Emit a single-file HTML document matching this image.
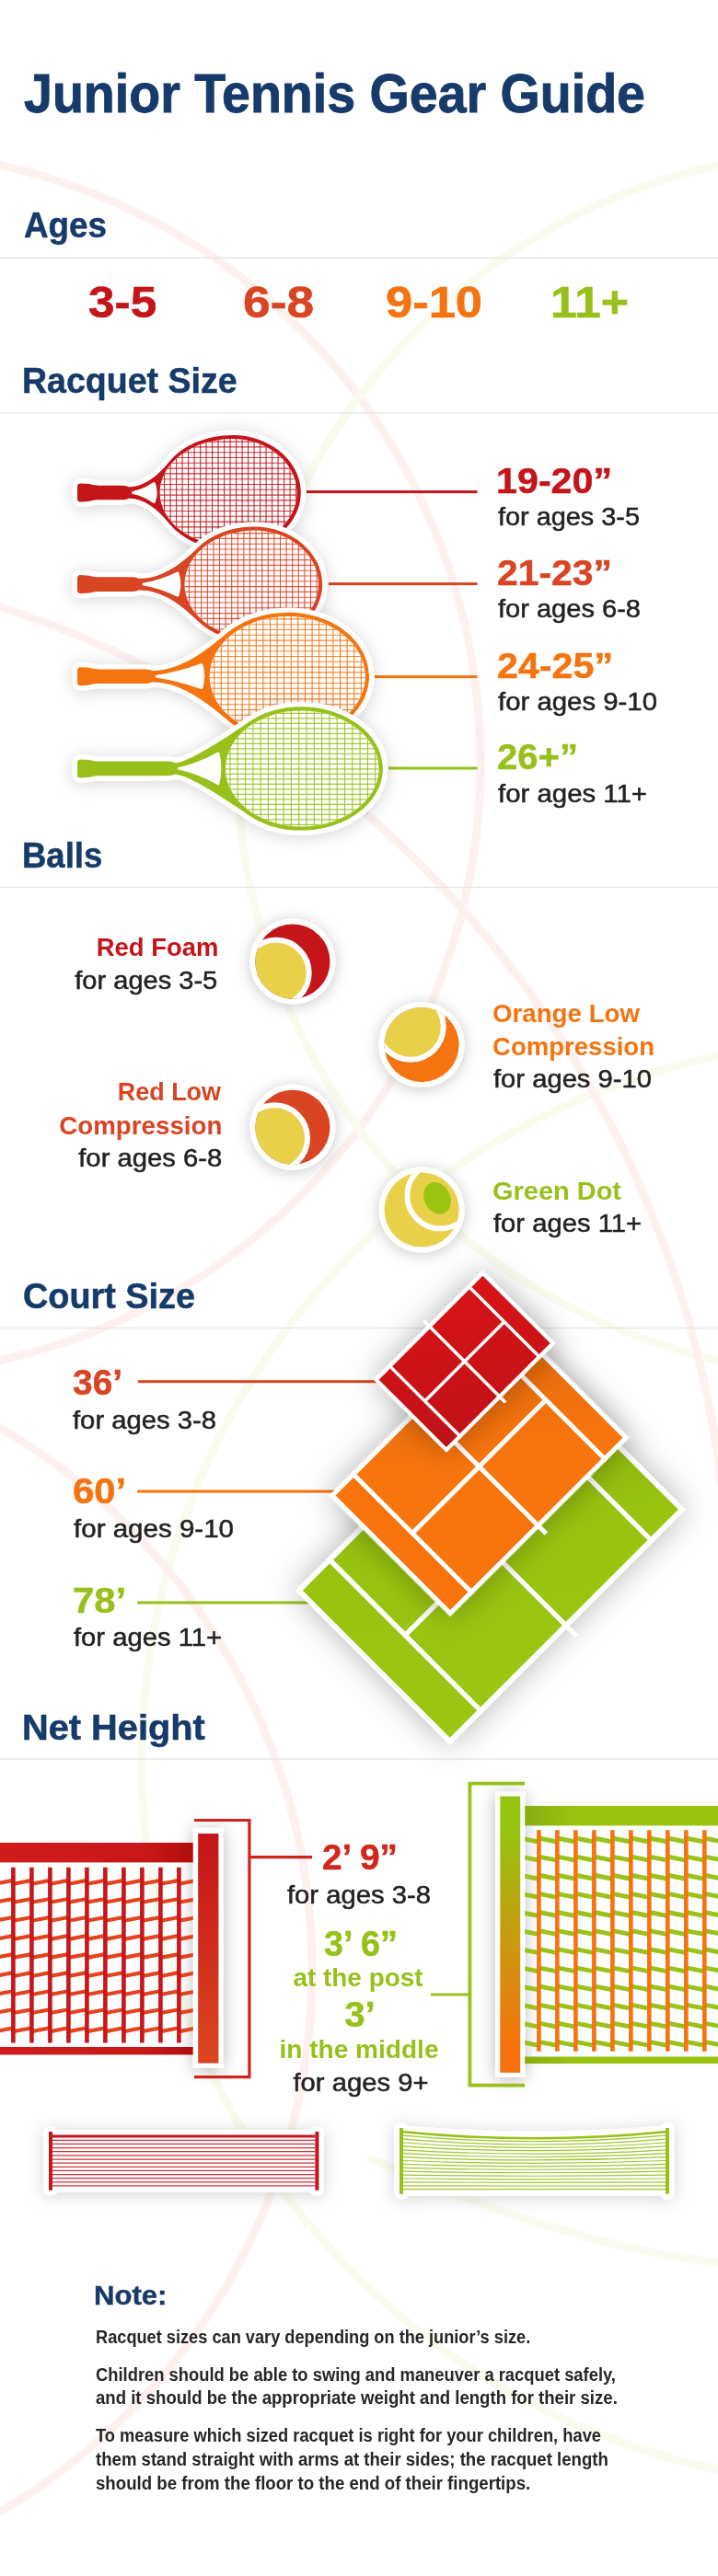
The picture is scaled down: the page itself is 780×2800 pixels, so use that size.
<!DOCTYPE html>
<html lang="en"><head><meta charset="utf-8"><title>Junior Tennis Gear Guide</title>
<style>
html,body{margin:0;padding:0;background:#fff}
#page{position:relative;width:780px;height:2800px;overflow:hidden;background:#fff;font-family:"Liberation Sans", Arial, sans-serif}
#page svg{position:absolute;left:0;top:0}
.t{position:absolute;margin:0;padding:0;line-height:1;white-space:nowrap;display:block}
</style></head><body>
<div id="page">
<svg width="780" height="2800" viewBox="0 0 780 2800">
<defs>
<filter id="shS" x="-20%" y="-50%" width="140%" height="200%"><feDropShadow dx="0" dy="2" stdDeviation="9" flood-color="#000" flood-opacity=".17"/></filter>
<filter id="shB" x="-40%" y="-40%" width="180%" height="180%"><feDropShadow dx="0" dy="2" stdDeviation="8" flood-color="#000" flood-opacity=".22"/></filter>
<filter id="shC" x="-60%" y="-60%" width="220%" height="220%"><feDropShadow dx="0" dy="0" stdDeviation="17" flood-color="#000" flood-opacity=".3"/></filter>
<filter id="shP" x="-150%" y="-20%" width="400%" height="140%"><feDropShadow dx="0" dy="2" stdDeviation="9" flood-color="#000" flood-opacity=".28"/></filter>
<linearGradient id="gRed" x1="0" y1="0" x2="1" y2="1"><stop offset="0" stop-color="#d81418"/><stop offset="1" stop-color="#bf1117"/></linearGradient>
<linearGradient id="gOr" x1="0" y1="0" x2="1" y2="1"><stop offset="0" stop-color="#e0690c"/><stop offset=".45" stop-color="#f8740d"/><stop offset="1" stop-color="#f8740d"/></linearGradient>
<linearGradient id="gGr" x1="0" y1="0" x2="1" y2="1"><stop offset="0" stop-color="#86ae12"/><stop offset=".5" stop-color="#98c410"/><stop offset="1" stop-color="#9bc614"/></linearGradient>
<linearGradient id="gRB" x1="0" y1="0" x2="1" y2="0"><stop offset="0" stop-color="#d01b1b"/><stop offset=".75" stop-color="#c91818"/><stop offset="1" stop-color="#b20c0c"/></linearGradient>
<linearGradient id="gRP" x1="0" y1="0" x2="0" y2="1"><stop offset="0" stop-color="#c41418"/><stop offset="1" stop-color="#dc4621"/></linearGradient>
<linearGradient id="gGB" x1="0" y1="0" x2="1" y2="0"><stop offset="0" stop-color="#86ae10"/><stop offset=".25" stop-color="#98c410"/><stop offset="1" stop-color="#98c410"/></linearGradient>
<linearGradient id="gGP" x1="0" y1="0" x2="0" y2="1"><stop offset="0" stop-color="#97c410"/><stop offset=".12" stop-color="#97c410"/><stop offset=".9" stop-color="#f7720d"/><stop offset="1" stop-color="#f7720d"/></linearGradient>
<clipPath id="cnR"><rect x="0" y="2024" width="209.9" height="202"/></clipPath>
<clipPath id="cnG"><rect x="570" y="1984" width="210" height="252"/></clipPath>
</defs>
<g fill="none" stroke-width="9">
<circle cx="-143" cy="829" r="665" stroke="#fdf1ef"/>
<circle cx="923" cy="829" r="665" stroke="#fafbef"/>
<circle cx="938" cy="1916" r="784" stroke="#fafbef"/>
<circle cx="-342" cy="2141" r="681" stroke="#fdf1ef"/>
<path d="M-5 658A1145 1145 0 0 1 785 1625" stroke="#fdf1ef"/>
<path d="M400 2345Q610 2440 785 2460" stroke="#fafbef"/>
</g>
<rect x="0" y="279.8" width="780" height="1.2" fill="#e3e3e3"/>
<rect x="0" y="448.2" width="780" height="1.2" fill="#e3e3e3"/>
<rect x="0" y="963.8" width="780" height="1.2" fill="#e3e3e3"/>
<rect x="0" y="1442.9" width="780" height="1.2" fill="#e3e3e3"/>
<rect x="0" y="1911.4" width="780" height="1.2" fill="#e3e3e3"/>
<rect x="333" y="533.1" width="185.5" height="3" fill="#c4151b"/>
<rect x="357" y="633.1" width="161.5" height="3" fill="#d94423"/>
<rect x="407" y="734.1" width="111.5" height="3" fill="#f5740f"/>
<rect x="422" y="833.5" width="96.5" height="3" fill="#97c11a"/>
<defs><clipPath id="rq1"><path d="M 252.4 477.1 C 291.01 477.1 322.6 503.38 322.6 535.5 C 322.6 567.62 291.01 593.9 252.4 593.9 A 78.8 58.4 0 0 1 173.6 535.5 A 78.8 58.4 0 0 1 252.4 477.1 Z"/></clipPath></defs>
<g filter="url(#shS)"><path d="M 140 529.2 C 155.25 529.6 170.39 518.53 183.09 502.67 A 81.4 62.6 0 0 1 252.4 472.9 C 293.32 472.9 326.8 501.07 326.8 535.5 C 326.8 569.93 293.32 598.1 252.4 598.1 A 81.4 62.6 0 0 1 183.09 568.33 C 170.39 552.47 155.25 541.4 140 541.8 Z" fill="#fff" stroke="#fff" stroke-width="10.5" stroke-linejoin="round"/><path d="M 87.5 525.5 L 93 525.8 C 99 525.8 100 527.7 108 527.7 L 132 527.7 C 137 527.7 140 528.9 141.8 531.1 L 141.8 539.9 C 140 542.1 137 543.3 132 543.3 L 108 543.3 C 100 543.3 99 545.2 93 545.2 L 87.5 545.5 Q 84 545.5 84 542 L 84 529 Q 84 525.5 87.5 525.5 Z" fill="#fff" stroke="#fff" stroke-width="10.5" stroke-linejoin="round"/></g>
<path d="M 140 529.2 C 155.25 529.6 170.39 518.53 183.09 502.67 A 81.4 62.6 0 0 1 252.4 472.9 C 293.32 472.9 326.8 501.07 326.8 535.5 C 326.8 569.93 293.32 598.1 252.4 598.1 A 81.4 62.6 0 0 1 183.09 568.33 C 170.39 552.47 155.25 541.4 140 541.8 Z" fill="#c4151b"/>
<path d="M 252.4 477.1 C 291.01 477.1 322.6 503.38 322.6 535.5 C 322.6 567.62 291.01 593.9 252.4 593.9 A 78.8 58.4 0 0 1 173.6 535.5 A 78.8 58.4 0 0 1 252.4 477.1 Z" fill="#fff"/>
<g clip-path="url(#rq1)"><path d="M178.6 472.9V598.1M185.1 472.9V598.1M191.6 472.9V598.1M198.1 472.9V598.1M204.6 472.9V598.1M211.1 472.9V598.1M217.6 472.9V598.1M224.1 472.9V598.1M230.6 472.9V598.1M237.1 472.9V598.1M243.6 472.9V598.1M250.1 472.9V598.1M256.6 472.9V598.1M263.1 472.9V598.1M269.6 472.9V598.1M276.1 472.9V598.1M282.6 472.9V598.1M289.1 472.9V598.1M295.6 472.9V598.1M302.1 472.9V598.1M308.6 472.9V598.1M315.1 472.9V598.1M321.6 472.9V598.1" stroke="#c4151b" stroke-width="1.1" fill="none" opacity=".9"/><path d="M171.6 480.1H326.8M171.6 485.9H326.8M171.6 491.7H326.8M171.6 497.5H326.8M171.6 503.3H326.8M171.6 509.1H326.8M171.6 514.9H326.8M171.6 520.7H326.8M171.6 526.5H326.8M171.6 532.3H326.8M171.6 538.1H326.8M171.6 543.9H326.8M171.6 549.7H326.8M171.6 555.5H326.8M171.6 561.3H326.8M171.6 567.1H326.8M171.6 572.9H326.8M171.6 578.7H326.8M171.6 584.5H326.8M171.6 590.3H326.8" stroke="#c4151b" stroke-width="1.1" fill="none" opacity=".85"/></g>
<path d="M 144.5 535.5 C 153.25 533.7 162 529.3 167.3 525.5 Q 171.1 535.5 167.3 545.5 C 162 541.7 153.25 537.3 144.5 535.5 Z" fill="#fff" stroke="#fff" stroke-width="3" stroke-linejoin="round"/>
<path d="M 87.5 525.5 L 93 525.8 C 99 525.8 100 527.7 108 527.7 L 132 527.7 C 137 527.7 140 528.9 141.8 531.1 L 141.8 539.9 C 140 542.1 137 543.3 132 543.3 L 108 543.3 C 100 543.3 99 545.2 93 545.2 L 87.5 545.5 Q 84 545.5 84 542 L 84 529 Q 84 525.5 87.5 525.5 Z" fill="#c4151b"/>
<defs><clipPath id="rq2"><path d="M 276 576.6 C 314.5 576.6 346 602.93 346 635.1 C 346 667.27 314.5 693.6 276 693.6 A 75.5 58.5 0 0 1 200.5 635.1 A 75.5 58.5 0 0 1 276 576.6 Z"/></clipPath></defs>
<g filter="url(#shS)"><path d="M 151.4 628.8 C 171.9 629.2 193.18 616.99 213.6 596.41 A 79.3 62.7 0 0 1 276 572.4 C 316.81 572.4 350.2 600.62 350.2 635.1 C 350.2 669.59 316.81 697.8 276 697.8 A 79.3 62.7 0 0 1 213.6 673.79 C 193.18 653.21 171.9 641 151.4 641.4 Z" fill="#fff" stroke="#fff" stroke-width="10.5" stroke-linejoin="round"/><path d="M 87.5 625.1 L 93 625.4 C 99 625.4 100 627.3 108 627.3 L 143.4 627.3 C 148.4 627.3 151.4 628.5 153.2 630.7 L 153.2 639.5 C 151.4 641.7 148.4 642.9 143.4 642.9 L 108 642.9 C 100 642.9 99 644.8 93 644.8 L 87.5 645.1 Q 84 645.1 84 641.6 L 84 628.6 Q 84 625.1 87.5 625.1 Z" fill="#fff" stroke="#fff" stroke-width="10.5" stroke-linejoin="round"/></g>
<path d="M 151.4 628.8 C 171.9 629.2 193.18 616.99 213.6 596.41 A 79.3 62.7 0 0 1 276 572.4 C 316.81 572.4 350.2 600.62 350.2 635.1 C 350.2 669.59 316.81 697.8 276 697.8 A 79.3 62.7 0 0 1 213.6 673.79 C 193.18 653.21 171.9 641 151.4 641.4 Z" fill="#d94423"/>
<path d="M 276 576.6 C 314.5 576.6 346 602.93 346 635.1 C 346 667.27 314.5 693.6 276 693.6 A 75.5 58.5 0 0 1 200.5 635.1 A 75.5 58.5 0 0 1 276 576.6 Z" fill="#fff"/>
<g clip-path="url(#rq2)"><path d="M205.5 572.4V697.8M212.1 572.4V697.8M218.7 572.4V697.8M225.3 572.4V697.8M231.9 572.4V697.8M238.5 572.4V697.8M245.1 572.4V697.8M251.7 572.4V697.8M258.3 572.4V697.8M264.9 572.4V697.8M271.5 572.4V697.8M278.1 572.4V697.8M284.7 572.4V697.8M291.3 572.4V697.8M297.9 572.4V697.8M304.5 572.4V697.8M311.1 572.4V697.8M317.7 572.4V697.8M324.3 572.4V697.8M330.9 572.4V697.8M337.5 572.4V697.8M344.1 572.4V697.8" stroke="#d94423" stroke-width="1.1" fill="none" opacity=".9"/><path d="M198.5 579.6H350.2M198.5 585.4H350.2M198.5 591.2H350.2M198.5 597H350.2M198.5 602.8H350.2M198.5 608.6H350.2M198.5 614.4H350.2M198.5 620.2H350.2M198.5 626H350.2M198.5 631.8H350.2M198.5 637.6H350.2M198.5 643.4H350.2M198.5 649.2H350.2M198.5 655H350.2M198.5 660.8H350.2M198.5 666.6H350.2M198.5 672.4H350.2M198.5 678.2H350.2M198.5 684H350.2M198.5 689.8H350.2" stroke="#d94423" stroke-width="1.1" fill="none" opacity=".85"/></g>
<path d="M 155.9 635.1 C 169.66 632.94 183.41 627.66 193 623.1 Q 196.8 635.1 193 647.1 C 183.41 642.54 169.66 637.26 155.9 635.1 Z" fill="#fff" stroke="#fff" stroke-width="3" stroke-linejoin="round"/>
<path d="M 87.5 625.1 L 93 625.4 C 99 625.4 100 627.3 108 627.3 L 143.4 627.3 C 148.4 627.3 151.4 628.5 153.2 630.7 L 153.2 639.5 C 151.4 641.7 148.4 642.9 143.4 642.9 L 108 642.9 C 100 642.9 99 644.8 93 644.8 L 87.5 645.1 Q 84 645.1 84 641.6 L 84 628.6 Q 84 625.1 87.5 625.1 Z" fill="#d94423"/>
<defs><clipPath id="rq3"><path d="M 313 669.9 C 359.09 669.9 396.8 699.29 396.8 735.2 C 396.8 771.12 359.09 800.5 313 800.5 A 85.3 65.3 0 0 1 227.7 735.2 A 85.3 65.3 0 0 1 313 669.9 Z"/></clipPath></defs>
<g filter="url(#shS)"><path d="M 165.7 728.9 C 189.2 729.3 213.7 716.47 245.26 689.11 A 90.5 69.5 0 0 1 313 665.7 C 361.4 665.7 401 696.98 401 735.2 C 401 773.43 361.4 804.7 313 804.7 A 90.5 69.5 0 0 1 245.26 781.29 C 213.7 753.93 189.2 741.1 165.7 741.5 Z" fill="#fff" stroke="#fff" stroke-width="10.5" stroke-linejoin="round"/><path d="M 87.5 725.2 L 93 725.5 C 99 725.5 100 727.4 108 727.4 L 157.7 727.4 C 162.7 727.4 165.7 728.6 167.5 730.8 L 167.5 739.6 C 165.7 741.8 162.7 743 157.7 743 L 108 743 C 100 743 99 744.9 93 744.9 L 87.5 745.2 Q 84 745.2 84 741.7 L 84 728.7 Q 84 725.2 87.5 725.2 Z" fill="#fff" stroke="#fff" stroke-width="10.5" stroke-linejoin="round"/></g>
<path d="M 165.7 728.9 C 189.2 729.3 213.7 716.47 245.26 689.11 A 90.5 69.5 0 0 1 313 665.7 C 361.4 665.7 401 696.98 401 735.2 C 401 773.43 361.4 804.7 313 804.7 A 90.5 69.5 0 0 1 245.26 781.29 C 213.7 753.93 189.2 741.1 165.7 741.5 Z" fill="#f5740f"/>
<path d="M 313 669.9 C 359.09 669.9 396.8 699.29 396.8 735.2 C 396.8 771.12 359.09 800.5 313 800.5 A 85.3 65.3 0 0 1 227.7 735.2 A 85.3 65.3 0 0 1 313 669.9 Z" fill="#fff"/>
<g clip-path="url(#rq3)"><path d="M232.7 665.7V804.7M240.3 665.7V804.7M247.9 665.7V804.7M255.5 665.7V804.7M263.1 665.7V804.7M270.7 665.7V804.7M278.3 665.7V804.7M285.9 665.7V804.7M293.5 665.7V804.7M301.1 665.7V804.7M308.7 665.7V804.7M316.3 665.7V804.7M323.9 665.7V804.7M331.5 665.7V804.7M339.1 665.7V804.7M346.7 665.7V804.7M354.3 665.7V804.7M361.9 665.7V804.7M369.5 665.7V804.7M377.1 665.7V804.7M384.7 665.7V804.7M392.3 665.7V804.7" stroke="#f5740f" stroke-width="1.1" fill="none" opacity=".9"/><path d="M225.7 672.9H401M225.7 678.7H401M225.7 684.5H401M225.7 690.3H401M225.7 696.1H401M225.7 701.9H401M225.7 707.7H401M225.7 713.5H401M225.7 719.3H401M225.7 725.1H401M225.7 730.9H401M225.7 736.7H401M225.7 742.5H401M225.7 748.3H401M225.7 754.1H401M225.7 759.9H401M225.7 765.7H401M225.7 771.5H401M225.7 777.3H401M225.7 783.1H401M225.7 788.9H401M225.7 794.7H401M225.7 800.5H401" stroke="#f5740f" stroke-width="1.1" fill="none" opacity=".85"/></g>
<path d="M 170.2 735.2 C 187.98 732.95 205.76 727.45 218.8 722.7 Q 222.6 735.2 218.8 747.7 C 205.76 742.95 187.98 737.45 170.2 735.2 Z" fill="#fff" stroke="#fff" stroke-width="3" stroke-linejoin="round"/>
<path d="M 87.5 725.2 L 93 725.5 C 99 725.5 100 727.4 108 727.4 L 157.7 727.4 C 162.7 727.4 165.7 728.6 167.5 730.8 L 167.5 739.6 C 165.7 741.8 162.7 743 157.7 743 L 108 743 C 100 743 99 744.9 93 744.9 L 87.5 745.2 Q 84 745.2 84 741.7 L 84 728.7 Q 84 725.2 87.5 725.2 Z" fill="#f5740f"/>
<defs><clipPath id="rq4"><path d="M 327 772.4 C 373.58 772.4 411.7 800.75 411.7 835.4 C 411.7 870.05 373.58 898.4 327 898.4 A 82 63 0 0 1 245 835.4 A 82 63 0 0 1 327 772.4 Z"/></clipPath></defs>
<g filter="url(#shS)"><path d="M 190 829.1 C 201.5 829.5 234.11 809.77 269.69 785.16 A 86.3 67.2 0 0 1 327 768.2 C 375.89 768.2 415.9 798.44 415.9 835.4 C 415.9 872.36 375.89 902.6 327 902.6 A 86.3 67.2 0 0 1 269.69 885.64 C 234.11 861.03 201.5 841.3 190 841.7 Z" fill="#fff" stroke="#fff" stroke-width="10.5" stroke-linejoin="round"/><path d="M 87.5 825.4 L 93 825.7 C 99 825.7 100 827.6 108 827.6 L 182 827.6 C 187 827.6 190 828.8 191.8 831 L 191.8 839.8 C 190 842 187 843.2 182 843.2 L 108 843.2 C 100 843.2 99 845.1 93 845.1 L 87.5 845.4 Q 84 845.4 84 841.9 L 84 828.9 Q 84 825.4 87.5 825.4 Z" fill="#fff" stroke="#fff" stroke-width="10.5" stroke-linejoin="round"/></g>
<path d="M 190 829.1 C 201.5 829.5 234.11 809.77 269.69 785.16 A 86.3 67.2 0 0 1 327 768.2 C 375.89 768.2 415.9 798.44 415.9 835.4 C 415.9 872.36 375.89 902.6 327 902.6 A 86.3 67.2 0 0 1 269.69 885.64 C 234.11 861.03 201.5 841.3 190 841.7 Z" fill="#97c11a"/>
<path d="M 327 772.4 C 373.58 772.4 411.7 800.75 411.7 835.4 C 411.7 870.05 373.58 898.4 327 898.4 A 82 63 0 0 1 245 835.4 A 82 63 0 0 1 327 772.4 Z" fill="#fff"/>
<g clip-path="url(#rq4)"><path d="M250 768.2V902.6M258.3 768.2V902.6M266.6 768.2V902.6M274.9 768.2V902.6M283.2 768.2V902.6M291.5 768.2V902.6M299.8 768.2V902.6M308.1 768.2V902.6M316.4 768.2V902.6M324.7 768.2V902.6M333 768.2V902.6M341.3 768.2V902.6M349.6 768.2V902.6M357.9 768.2V902.6M366.2 768.2V902.6M374.5 768.2V902.6M382.8 768.2V902.6M391.1 768.2V902.6M399.4 768.2V902.6M407.7 768.2V902.6" stroke="#97c11a" stroke-width="1.1" fill="none" opacity=".9"/><path d="M243 775.4H415.9M243 780.9H415.9M243 786.4H415.9M243 791.9H415.9M243 797.4H415.9M243 802.9H415.9M243 808.4H415.9M243 813.9H415.9M243 819.4H415.9M243 824.9H415.9M243 830.4H415.9M243 835.9H415.9M243 841.4H415.9M243 846.9H415.9M243 852.4H415.9M243 857.9H415.9M243 863.4H415.9M243 868.9H415.9M243 874.4H415.9M243 879.9H415.9M243 885.4H415.9M243 890.9H415.9M243 896.4H415.9" stroke="#97c11a" stroke-width="1.1" fill="none" opacity=".85"/></g>
<path d="M 194.5 835.4 C 210.14 832.47 225.79 825.29 237 819.1 Q 240.8 835.4 237 851.7 C 225.79 845.51 210.14 838.33 194.5 835.4 Z" fill="#fff" stroke="#fff" stroke-width="3" stroke-linejoin="round"/>
<path d="M 87.5 825.4 L 93 825.7 C 99 825.7 100 827.6 108 827.6 L 182 827.6 C 187 827.6 190 828.8 191.8 831 L 191.8 839.8 C 190 842 187 843.2 182 843.2 L 108 843.2 C 100 843.2 99 845.1 93 845.1 L 87.5 845.4 Q 84 845.4 84 841.9 L 84 828.9 Q 84 825.4 87.5 825.4 Z" fill="#97c11a"/>
<circle cx="317.9" cy="1045.1" r="46.5" fill="#fff" filter="url(#shB)"/>
<defs><clipPath id="bl1"><circle cx="317.9" cy="1045.1" r="40.6"/></clipPath></defs>
<circle cx="317.9" cy="1045.1" r="40.6" fill="#c4151b"/>
<g clip-path="url(#bl1)"><circle cx="300" cy="1057.5" r="35.7" fill="#e9d049" stroke="#fff" stroke-width="6"/></g>
<circle cx="317.9" cy="1225.3" r="46.5" fill="#fff" filter="url(#shB)"/>
<defs><clipPath id="bl2"><circle cx="317.9" cy="1225.3" r="40.6"/></clipPath></defs>
<circle cx="317.9" cy="1225.3" r="40.6" fill="#d94423"/>
<g clip-path="url(#bl2)"><circle cx="298.3" cy="1237" r="35.7" fill="#e9d049" stroke="#fff" stroke-width="6"/></g>
<circle cx="458" cy="1135.6" r="46.5" fill="#fff" filter="url(#shB)"/>
<defs><clipPath id="bl3"><circle cx="458" cy="1135.6" r="40.6"/></clipPath></defs>
<circle cx="458" cy="1135.6" r="40.6" fill="#f5740f"/>
<g clip-path="url(#bl3)"><circle cx="446" cy="1116.1" r="35.7" fill="#e9d049" stroke="#fff" stroke-width="6"/></g>
<circle cx="458.1" cy="1315" r="46.5" fill="#fff" filter="url(#shB)"/>
<defs><clipPath id="bl4"><circle cx="458.1" cy="1315" r="40.6"/></clipPath></defs>
<circle cx="458.1" cy="1315" r="40.6" fill="#e9d049"/>
<g clip-path="url(#bl4)"><circle cx="478.4" cy="1299.4" r="36" fill="none" stroke="#fff" stroke-width="5.8"/></g>
<ellipse cx="475" cy="1302.4" rx="14" ry="18" fill="#99c40f" transform="rotate(-25 475 1302.4)"/>
<rect x="150" y="1500.2" width="265" height="3" fill="#d94423"/>
<rect x="149.3" y="1619.6" width="222.7" height="3" fill="#f5740f"/>
<rect x="149.3" y="1740.5" width="190.7" height="3" fill="#97c11a"/>
<g transform="translate(532.8 1684.8) rotate(45)">
<rect x="-118.7" y="-181" width="237.4" height="362" fill="#fff" filter="url(#shC)"/>
<rect x="-113.1" y="-175.4" width="226.2" height="350.8" fill="url(#gGr)"/>
<path d="M-118.7 -131H118.7 M-118.7 131H118.7 M0 -131V131 M-132.7 0H132.7" stroke="#fff" stroke-width="5.4" fill="none"/>
</g>
<g transform="translate(520.5 1594.1) rotate(45)">
<rect x="-93.05" y="-137.5" width="186.1" height="275" fill="#fff" filter="url(#shC)"/>
<rect x="-88.05" y="-132.5" width="176.1" height="265" fill="url(#gOr)"/>
<path d="M-93.05 -102.5H93.05 M-93.05 102.5H93.05 M0 -102.5V102.5 M-103.05 0H103.05" stroke="#fff" stroke-width="5" fill="none"/>
</g>
<g transform="translate(504.65 1479.85) rotate(45)">
<rect x="-56" y="-84" width="112" height="168" fill="#fff" filter="url(#shC)"/>
<rect x="-51.8" y="-79.8" width="103.6" height="159.6" fill="url(#gRed)"/>
<path d="M-56 -61H56 M-56 61H56 M0 -61V61 M-63 0H63" stroke="#fff" stroke-width="3.5" fill="none"/>
</g>
<rect x="209.8" y="1986.9" width="32.6" height="261.1" fill="#fff" filter="url(#shP)"/>
<g clip-path="url(#cnR)"><path d="M-5.6 2047.7L14.4 2043.9M14.4 2047.7L34.4 2043.9M34.4 2047.7L54.4 2043.9M54.4 2047.7L74.4 2043.9M74.4 2047.7L94.4 2043.9M94.4 2047.7L114.4 2043.9M114.4 2047.7L134.4 2043.9M134.4 2047.7L154.4 2043.9M154.4 2047.7L174.4 2043.9M174.4 2047.7L194.4 2043.9M194.4 2047.7L214.4 2043.9M-5.6 2067.75L14.4 2063.95M14.4 2067.75L34.4 2063.95M34.4 2067.75L54.4 2063.95M54.4 2067.75L74.4 2063.95M74.4 2067.75L94.4 2063.95M94.4 2067.75L114.4 2063.95M114.4 2067.75L134.4 2063.95M134.4 2067.75L154.4 2063.95M154.4 2067.75L174.4 2063.95M174.4 2067.75L194.4 2063.95M194.4 2067.75L214.4 2063.95M-5.6 2087.8L14.4 2084M14.4 2087.8L34.4 2084M34.4 2087.8L54.4 2084M54.4 2087.8L74.4 2084M74.4 2087.8L94.4 2084M94.4 2087.8L114.4 2084M114.4 2087.8L134.4 2084M134.4 2087.8L154.4 2084M154.4 2087.8L174.4 2084M174.4 2087.8L194.4 2084M194.4 2087.8L214.4 2084M-5.6 2107.85L14.4 2104.05M14.4 2107.85L34.4 2104.05M34.4 2107.85L54.4 2104.05M54.4 2107.85L74.4 2104.05M74.4 2107.85L94.4 2104.05M94.4 2107.85L114.4 2104.05M114.4 2107.85L134.4 2104.05M134.4 2107.85L154.4 2104.05M154.4 2107.85L174.4 2104.05M174.4 2107.85L194.4 2104.05M194.4 2107.85L214.4 2104.05M-5.6 2127.9L14.4 2124.1M14.4 2127.9L34.4 2124.1M34.4 2127.9L54.4 2124.1M54.4 2127.9L74.4 2124.1M74.4 2127.9L94.4 2124.1M94.4 2127.9L114.4 2124.1M114.4 2127.9L134.4 2124.1M134.4 2127.9L154.4 2124.1M154.4 2127.9L174.4 2124.1M174.4 2127.9L194.4 2124.1M194.4 2127.9L214.4 2124.1M-5.6 2147.95L14.4 2144.15M14.4 2147.95L34.4 2144.15M34.4 2147.95L54.4 2144.15M54.4 2147.95L74.4 2144.15M74.4 2147.95L94.4 2144.15M94.4 2147.95L114.4 2144.15M114.4 2147.95L134.4 2144.15M134.4 2147.95L154.4 2144.15M154.4 2147.95L174.4 2144.15M174.4 2147.95L194.4 2144.15M194.4 2147.95L214.4 2144.15M-5.6 2168L14.4 2164.2M14.4 2168L34.4 2164.2M34.4 2168L54.4 2164.2M54.4 2168L74.4 2164.2M74.4 2168L94.4 2164.2M94.4 2168L114.4 2164.2M114.4 2168L134.4 2164.2M134.4 2168L154.4 2164.2M154.4 2168L174.4 2164.2M174.4 2168L194.4 2164.2M194.4 2168L214.4 2164.2M-5.6 2188.05L14.4 2184.25M14.4 2188.05L34.4 2184.25M34.4 2188.05L54.4 2184.25M54.4 2188.05L74.4 2184.25M74.4 2188.05L94.4 2184.25M94.4 2188.05L114.4 2184.25M114.4 2188.05L134.4 2184.25M134.4 2188.05L154.4 2184.25M154.4 2188.05L174.4 2184.25M174.4 2188.05L194.4 2184.25M194.4 2188.05L214.4 2184.25M-5.6 2208.1L14.4 2204.3M14.4 2208.1L34.4 2204.3M34.4 2208.1L54.4 2204.3M54.4 2208.1L74.4 2204.3M74.4 2208.1L94.4 2204.3M94.4 2208.1L114.4 2204.3M114.4 2208.1L134.4 2204.3M134.4 2208.1L154.4 2204.3M154.4 2208.1L174.4 2204.3M174.4 2208.1L194.4 2204.3M194.4 2208.1L214.4 2204.3" stroke="#e2441f" stroke-width="4.2" fill="none"/>
<path d="M14.4 2029.8V2220.5M34.4 2029.8V2220.5M54.4 2029.8V2220.5M74.4 2029.8V2220.5M94.4 2029.8V2220.5M114.4 2029.8V2220.5M134.4 2029.8V2220.5M154.4 2029.8V2220.5M174.4 2029.8V2220.5M194.4 2029.8V2220.5" stroke="#c8161a" stroke-width="4.6" fill="none"/></g>
<rect x="0" y="2002.9" width="209.9" height="21.5" fill="url(#gRB)"/>
<rect x="0" y="2225" width="209.9" height="8.4" fill="url(#gRB)"/>
<rect x="209.8" y="1986.9" width="32.6" height="261.1" fill="#fff"/>
<rect x="215.2" y="1993" width="22.2" height="249.6" fill="url(#gRP)"/>
<path d="M211 1978.5H270.9V2257.6H211" stroke="#cf231c" stroke-width="3.2" fill="none"/>
<path d="M270.9 2018.6H339" stroke="#cf231c" stroke-width="3.2" fill="none"/>
<rect x="538" y="1947.6" width="32.2" height="310.2" fill="#fff" filter="url(#shP)"/>
<g clip-path="url(#cnG)"><path d="M565.4 1998L585.4 2002M585.4 1998L605.39 2002M605.39 1998L625.38 2002M625.38 1998L645.37 2002M645.37 1998L665.36 2002M665.36 1998L685.35 2002M685.35 1998L705.34 2002M705.34 1998L725.33 2002M725.33 1998L745.32 2002M745.32 1998L765.31 2002M765.31 1998L785.4 2002M565.4 2018.12L585.4 2022.12M585.4 2018.12L605.39 2022.12M605.39 2018.12L625.38 2022.12M625.38 2018.12L645.37 2022.12M645.37 2018.12L665.36 2022.12M665.36 2018.12L685.35 2022.12M685.35 2018.12L705.34 2022.12M705.34 2018.12L725.33 2022.12M725.33 2018.12L745.32 2022.12M745.32 2018.12L765.31 2022.12M765.31 2018.12L785.4 2022.12M565.4 2038.24L585.4 2042.24M585.4 2038.24L605.39 2042.24M605.39 2038.24L625.38 2042.24M625.38 2038.24L645.37 2042.24M645.37 2038.24L665.36 2042.24M665.36 2038.24L685.35 2042.24M685.35 2038.24L705.34 2042.24M705.34 2038.24L725.33 2042.24M725.33 2038.24L745.32 2042.24M745.32 2038.24L765.31 2042.24M765.31 2038.24L785.4 2042.24M565.4 2058.36L585.4 2062.36M585.4 2058.36L605.39 2062.36M605.39 2058.36L625.38 2062.36M625.38 2058.36L645.37 2062.36M645.37 2058.36L665.36 2062.36M665.36 2058.36L685.35 2062.36M685.35 2058.36L705.34 2062.36M705.34 2058.36L725.33 2062.36M725.33 2058.36L745.32 2062.36M745.32 2058.36L765.31 2062.36M765.31 2058.36L785.4 2062.36M565.4 2078.48L585.4 2082.48M585.4 2078.48L605.39 2082.48M605.39 2078.48L625.38 2082.48M625.38 2078.48L645.37 2082.48M645.37 2078.48L665.36 2082.48M665.36 2078.48L685.35 2082.48M685.35 2078.48L705.34 2082.48M705.34 2078.48L725.33 2082.48M725.33 2078.48L745.32 2082.48M745.32 2078.48L765.31 2082.48M765.31 2078.48L785.4 2082.48M565.4 2098.6L585.4 2102.6M585.4 2098.6L605.39 2102.6M605.39 2098.6L625.38 2102.6M625.38 2098.6L645.37 2102.6M645.37 2098.6L665.36 2102.6M665.36 2098.6L685.35 2102.6M685.35 2098.6L705.34 2102.6M705.34 2098.6L725.33 2102.6M725.33 2098.6L745.32 2102.6M745.32 2098.6L765.31 2102.6M765.31 2098.6L785.4 2102.6M565.4 2118.72L585.4 2122.72M585.4 2118.72L605.39 2122.72M605.39 2118.72L625.38 2122.72M625.38 2118.72L645.37 2122.72M645.37 2118.72L665.36 2122.72M665.36 2118.72L685.35 2122.72M685.35 2118.72L705.34 2122.72M705.34 2118.72L725.33 2122.72M725.33 2118.72L745.32 2122.72M745.32 2118.72L765.31 2122.72M765.31 2118.72L785.4 2122.72M565.4 2138.84L585.4 2142.84M585.4 2138.84L605.39 2142.84M605.39 2138.84L625.38 2142.84M625.38 2138.84L645.37 2142.84M645.37 2138.84L665.36 2142.84M665.36 2138.84L685.35 2142.84M685.35 2138.84L705.34 2142.84M705.34 2138.84L725.33 2142.84M725.33 2138.84L745.32 2142.84M745.32 2138.84L765.31 2142.84M765.31 2138.84L785.4 2142.84M565.4 2158.96L585.4 2162.96M585.4 2158.96L605.39 2162.96M605.39 2158.96L625.38 2162.96M625.38 2158.96L645.37 2162.96M645.37 2158.96L665.36 2162.96M665.36 2158.96L685.35 2162.96M685.35 2158.96L705.34 2162.96M705.34 2158.96L725.33 2162.96M725.33 2158.96L745.32 2162.96M745.32 2158.96L765.31 2162.96M765.31 2158.96L785.4 2162.96M565.4 2179.08L585.4 2183.08M585.4 2179.08L605.39 2183.08M605.39 2179.08L625.38 2183.08M625.38 2179.08L645.37 2183.08M645.37 2179.08L665.36 2183.08M665.36 2179.08L685.35 2183.08M685.35 2179.08L705.34 2183.08M705.34 2179.08L725.33 2183.08M725.33 2179.08L745.32 2183.08M745.32 2179.08L765.31 2183.08M765.31 2179.08L785.4 2183.08M565.4 2199.2L585.4 2203.2M585.4 2199.2L605.39 2203.2M605.39 2199.2L625.38 2203.2M625.38 2199.2L645.37 2203.2M645.37 2199.2L665.36 2203.2M665.36 2199.2L685.35 2203.2M685.35 2199.2L705.34 2203.2M705.34 2199.2L725.33 2203.2M725.33 2199.2L745.32 2203.2M745.32 2199.2L765.31 2203.2M765.31 2199.2L785.4 2203.2M565.4 2219.32L585.4 2223.32M585.4 2219.32L605.39 2223.32M605.39 2219.32L625.38 2223.32M625.38 2219.32L645.37 2223.32M645.37 2219.32L665.36 2223.32M665.36 2219.32L685.35 2223.32M685.35 2219.32L705.34 2223.32M705.34 2219.32L725.33 2223.32M725.33 2219.32L745.32 2223.32M745.32 2219.32L765.31 2223.32M765.31 2219.32L785.4 2223.32" stroke="#98c21c" stroke-width="4.9" fill="none"/>
<path d="M585.4 1989.2V2229.7M605.39 1989.2V2229.7M625.38 1989.2V2229.7M645.37 1989.2V2229.7M665.36 1989.2V2229.7M685.35 1989.2V2229.7M705.34 1989.2V2229.7M725.33 1989.2V2229.7M745.32 1989.2V2229.7M765.31 1989.2V2229.7" stroke="#f5740f" stroke-width="4.6" fill="none"/></g>
<rect x="570" y="1962.9" width="210" height="21.5" fill="url(#gGB)"/>
<rect x="570" y="2235.5" width="210" height="7.6" fill="url(#gGB)"/>
<rect x="538" y="1947.6" width="32.2" height="310.2" fill="#fff"/>
<rect x="543.3" y="1952.5" width="21.9" height="300.4" fill="url(#gGP)"/>
<path d="M570 1938.7H510.4V2266.7H570" stroke="#97c11a" stroke-width="3.8" fill="none"/>
<path d="M468 2168H510.4" stroke="#97c11a" stroke-width="3.2" fill="none"/>
<path d="M53 2317H57V2320.5H342.4V2317H346.4V2380.7H342.4V2377.5H57V2380.7H53Z" fill="#fff" stroke="#fff" stroke-width="11" stroke-linejoin="round" filter="url(#shS)"/>
<path d="M57 2326.3H342.4M57 2330.44H342.4M57 2334.58H342.4M57 2338.72H342.4M57 2342.86H342.4M57 2347H342.4M57 2351.14H342.4M57 2355.28H342.4M57 2359.42H342.4M57 2363.56H342.4M57 2367.7H342.4M57 2371.84H342.4M57 2375.98H342.4" stroke="#cc1a1d" stroke-width="1.25" fill="none" opacity=".9"/>
<path d="M57 2322H342.4" stroke="#c4151b" stroke-width="3.2"/>
<rect x="53" y="2317" width="4" height="63.7" fill="#c4151b"/><rect x="342.4" y="2317" width="4" height="63.7" fill="#c4151b"/>
<path d="M434 2313H438V2316Q580.5 2328 723 2316V2313H727V2384.7H723V2381.5H438V2384.7H434Z" fill="#fff" stroke="#fff" stroke-width="11" stroke-linejoin="round" filter="url(#shS)"/>
<path d="M438 2321.2Q580.5 2334.07 723 2321.2M438 2325.1Q580.5 2336.87 723 2325.1M438 2329Q580.5 2339.69 723 2329M438 2332.9Q580.5 2342.53 723 2332.9M438 2336.8Q580.5 2345.4 723 2336.8M438 2340.7Q580.5 2348.3 723 2340.7M438 2344.6Q580.5 2351.23 723 2344.6M438 2348.5Q580.5 2354.19 723 2348.5M438 2352.4Q580.5 2357.18 723 2352.4M438 2356.3Q580.5 2360.21 723 2356.3M438 2360.2Q580.5 2363.29 723 2360.2M438 2364.1Q580.5 2366.41 723 2364.1M438 2368Q580.5 2369.59 723 2368M438 2371.9Q580.5 2372.84 723 2371.9M438 2375.8Q580.5 2376.18 723 2375.8M438 2379.7Q580.5 2379.7 723 2379.7" stroke="#97c11a" stroke-width="1.2" fill="none" opacity=".9"/>
<path d="M438 2317.3Q580.5 2331.3 723 2317.3" stroke="#97c11a" stroke-width="2.6" fill="none"/>
<rect x="434" y="2313" width="4" height="71.7" fill="#97c11a"/><rect x="723" y="2313" width="4" height="71.7" fill="#97c11a"/>
</svg>
<h1 id="t0" class="t " style="top:72.00px;font-size:60px;color:#163a69;font-weight:700;left:26.00px;transform-origin:0 0;transform:scaleX(0.9259);-webkit-text-stroke:0.9px #163a69;">Junior Tennis Gear Guide</h1>
<h2 id="t1" class="t " style="top:226.00px;font-size:38.4px;color:#163a69;font-weight:700;left:26.00px;transform-origin:0 0;transform:scaleX(0.9587);-webkit-text-stroke:0.5px #163a69;">Ages</h2>
<h2 id="t2" class="t " style="top:395.00px;font-size:38.4px;color:#163a69;font-weight:700;left:23.97px;transform-origin:0 0;transform:scaleX(0.9777);-webkit-text-stroke:0.5px #163a69;">Racquet Size</h2>
<h2 id="t3" class="t " style="top:911.00px;font-size:38.4px;color:#163a69;font-weight:700;left:23.94px;transform-origin:0 0;transform:scaleX(0.9512);-webkit-text-stroke:0.5px #163a69;">Balls</h2>
<h2 id="t4" class="t " style="top:1390.00px;font-size:38.4px;color:#163a69;font-weight:700;left:24.99px;transform-origin:0 0;transform:scaleX(0.9851);-webkit-text-stroke:0.5px #163a69;">Court Size</h2>
<h2 id="t5" class="t " style="top:1859.00px;font-size:38.4px;color:#163a69;font-weight:700;left:23.98px;transform-origin:0 0;transform:scaleX(1.0357);-webkit-text-stroke:0.5px #163a69;">Net Height</h2>
<span id="t6" class="t " style="top:304.20px;font-size:48.4px;color:#c4151b;font-weight:700;left:95.77px;transform-origin:0 0;transform:scaleX(1.0612);-webkit-text-stroke:0.6px #c4151b;">3-5</span>
<span id="t7" class="t " style="top:304.20px;font-size:48.4px;color:#d94423;font-weight:700;left:263.97px;transform-origin:0 0;transform:scaleX(1.1020);-webkit-text-stroke:0.6px #d94423;">6-8</span>
<span id="t8" class="t " style="top:304.20px;font-size:48.4px;color:#f5740f;font-weight:700;left:418.57px;transform-origin:0 0;transform:scaleX(1.0848);-webkit-text-stroke:0.6px #f5740f;">9-10</span>
<span id="t9" class="t " style="top:304.20px;font-size:48.4px;color:#97c11a;font-weight:700;left:598.07px;transform-origin:0 0;transform:scaleX(1.0723);-webkit-text-stroke:0.6px #97c11a;">11+</span>
<span id="t10" class="t " style="top:503.00px;font-size:39.2px;color:#c4151b;font-weight:700;left:538.93px;transform-origin:0 0;transform:scaleX(1.0526);-webkit-text-stroke:0.5px #c4151b;">19-20”</span>
<span id="t11" class="t " style="top:548.00px;font-size:27.6px;color:#222222;font-weight:400;left:541.00px;transform-origin:0 0;transform:scaleX(1.0458);-webkit-text-stroke:0.5px #222222;">for ages 3-5</span>
<span id="t12" class="t " style="top:603.00px;font-size:39.2px;color:#d94423;font-weight:700;left:539.97px;transform-origin:0 0;transform:scaleX(1.0438);-webkit-text-stroke:0.5px #d94423;">21-23”</span>
<span id="t13" class="t " style="top:648.00px;font-size:27.6px;color:#222222;font-weight:400;left:541.00px;transform-origin:0 0;transform:scaleX(1.0526);-webkit-text-stroke:0.5px #222222;">for ages 6-8</span>
<span id="t14" class="t " style="top:704.20px;font-size:39.2px;color:#f5740f;font-weight:700;left:539.98px;transform-origin:0 0;transform:scaleX(1.0521);-webkit-text-stroke:0.5px #f5740f;">24-25”</span>
<span id="t15" class="t " style="top:749.00px;font-size:27.6px;color:#222222;font-weight:400;left:541.00px;transform-origin:0 0;transform:scaleX(1.0639);-webkit-text-stroke:0.5px #222222;">for ages 9-10</span>
<span id="t16" class="t " style="top:803.00px;font-size:39.2px;color:#97c11a;font-weight:700;left:539.96px;transform-origin:0 0;transform:scaleX(1.0236);-webkit-text-stroke:0.5px #97c11a;">26+”</span>
<span id="t17" class="t " style="top:849.00px;font-size:27.6px;color:#222222;font-weight:400;left:541.00px;transform-origin:0 0;transform:scaleX(1.0648);-webkit-text-stroke:0.5px #222222;">for ages 11+</span>
<span id="t18" class="t " style="top:1016.00px;font-size:27.6px;color:#c4151b;font-weight:700;right:542.96px;transform-origin:100% 0;transform:scaleX(0.9946);">Red Foam</span>
<span id="t19" class="t " style="top:1052.00px;font-size:27.6px;color:#222222;font-weight:400;right:544.00px;transform-origin:100% 0;transform:scaleX(1.0525);-webkit-text-stroke:0.5px #222222;">for ages 3-5</span>
<span id="t20" class="t " style="top:1088.00px;font-size:27.6px;color:#f5740f;font-weight:700;left:534.60px;transform-origin:0 0;transform:scaleX(1.0034);">Orange Low</span>
<span id="t21" class="t " style="top:1123.50px;font-size:27.6px;color:#f5740f;font-weight:700;left:534.59px;transform-origin:0 0;transform:scaleX(0.9983);">Compression</span>
<span id="t22" class="t " style="top:1159.00px;font-size:27.6px;color:#222222;font-weight:400;left:535.60px;transform-origin:0 0;transform:scaleX(1.0578);-webkit-text-stroke:0.5px #222222;">for ages 9-10</span>
<span id="t23" class="t " style="top:1173.00px;font-size:27.6px;color:#d94423;font-weight:700;right:539.60px;transform-origin:100% 0;transform:scaleX(0.9759);">Red Low</span>
<span id="t24" class="t " style="top:1209.50px;font-size:27.6px;color:#d94423;font-weight:700;right:538.58px;transform-origin:100% 0;transform:scaleX(1.0040);">Compression</span>
<span id="t25" class="t " style="top:1245.00px;font-size:27.6px;color:#222222;font-weight:400;right:538.59px;transform-origin:100% 0;transform:scaleX(1.0594);-webkit-text-stroke:0.5px #222222;">for ages 6-8</span>
<span id="t26" class="t " style="top:1281.00px;font-size:27.6px;color:#97c11a;font-weight:700;left:534.60px;transform-origin:0 0;transform:scaleX(1.0496);">Green Dot</span>
<span id="t27" class="t " style="top:1316.00px;font-size:27.6px;color:#222222;font-weight:400;left:535.60px;transform-origin:0 0;transform:scaleX(1.0583);-webkit-text-stroke:0.5px #222222;">for ages 11+</span>
<span id="t28" class="t " style="top:1482.80px;font-size:39.2px;color:#d94423;font-weight:700;left:79.38px;transform-origin:0 0;transform:scaleX(0.9926);-webkit-text-stroke:0.5px #d94423;">36’</span>
<span id="t29" class="t " style="top:1529.60px;font-size:27.6px;color:#222222;font-weight:400;left:79.40px;transform-origin:0 0;transform:scaleX(1.0594);-webkit-text-stroke:0.5px #222222;">for ages 3-8</span>
<span id="t30" class="t " style="top:1601.20px;font-size:39.2px;color:#f5740f;font-weight:700;left:78.94px;transform-origin:0 0;transform:scaleX(1.0677);-webkit-text-stroke:0.5px #f5740f;">60’</span>
<span id="t31" class="t " style="top:1648.30px;font-size:27.6px;color:#222222;font-weight:400;left:80.00px;transform-origin:0 0;transform:scaleX(1.0701);-webkit-text-stroke:0.5px #222222;">for ages 9-10</span>
<span id="t32" class="t " style="top:1720.00px;font-size:39.2px;color:#97c11a;font-weight:700;left:78.94px;transform-origin:0 0;transform:scaleX(1.0677);-webkit-text-stroke:0.5px #97c11a;">78’</span>
<span id="t33" class="t " style="top:1766.00px;font-size:27.6px;color:#222222;font-weight:400;left:80.00px;transform-origin:0 0;transform:scaleX(1.0583);-webkit-text-stroke:0.5px #222222;">for ages 11+</span>
<span class="t " style="top:1999.00px;font-size:39.2px;color:#d0281d;font-weight:700;left:390.66px;width:600px;margin-left:-300px;text-align:center;transform-origin:50% 0;transform:scaleX(0.9918);-webkit-text-stroke:0.5px #d0281d;"><span id="t34">2’ 9”</span></span>
<span class="t " style="top:2045.60px;font-size:27.6px;color:#222222;font-weight:400;left:390.00px;width:600px;margin-left:-300px;text-align:center;transform-origin:50% 0;transform:scaleX(1.0593);-webkit-text-stroke:0.5px #222222;"><span id="t35">for ages 3-8</span></span>
<span class="t " style="top:2093.00px;font-size:39.2px;color:#97c11a;font-weight:700;left:392.03px;width:600px;margin-left:-300px;text-align:center;transform-origin:50% 0;transform:scaleX(0.9669);-webkit-text-stroke:0.5px #97c11a;"><span id="t36">3’ 6”</span></span>
<span class="t " style="top:2135.50px;font-size:27.6px;color:#97c11a;font-weight:700;left:388.80px;width:600px;margin-left:-300px;text-align:center;transform-origin:50% 0;transform:scaleX(1.0121);"><span id="t37">at the post</span></span>
<span class="t " style="top:2170.30px;font-size:39.2px;color:#97c11a;font-weight:700;left:390.83px;width:600px;margin-left:-300px;text-align:center;transform-origin:50% 0;transform:scaleX(1.0301);-webkit-text-stroke:0.5px #97c11a;"><span id="t38">3’</span></span>
<span class="t " style="top:2213.60px;font-size:27.6px;color:#97c11a;font-weight:700;left:390.10px;width:600px;margin-left:-300px;text-align:center;transform-origin:50% 0;transform:scaleX(1.0168);"><span id="t39">in the middle</span></span>
<span class="t " style="top:2250.40px;font-size:27.6px;color:#222222;font-weight:400;left:391.71px;width:600px;margin-left:-300px;text-align:center;transform-origin:50% 0;transform:scaleX(1.0588);-webkit-text-stroke:0.5px #222222;"><span id="t40">for ages 9+</span></span>
<h3 id="t41" class="t " style="top:2480.50px;font-size:29.2px;color:#163a69;font-weight:700;left:102.31px;transform-origin:0 0;transform:scaleX(1.0650);-webkit-text-stroke:0.4px #163a69;">Note:</h3>
<p id="t42" class="t " style="top:2530.60px;font-size:19.4px;color:#262626;font-weight:700;left:103.99px;transform-origin:0 0;transform:scaleX(0.9384);">Racquet sizes can vary depending on the junior’s size.</p>
<p id="t43" class="t " style="top:2572.00px;font-size:19.4px;color:#262626;font-weight:700;left:104.00px;transform-origin:0 0;transform:scaleX(0.9470);">Children should be able to swing and maneuver a racquet safely,</p>
<p id="t44" class="t " style="top:2597.00px;font-size:19.4px;color:#262626;font-weight:700;left:104.00px;transform-origin:0 0;transform:scaleX(0.9583);">and it should be the appropriate weight and length for their size.</p>
<p id="t45" class="t " style="top:2638.00px;font-size:19.4px;color:#262626;font-weight:700;left:104.00px;transform-origin:0 0;transform:scaleX(0.9441);">To measure which sized racquet is right for your children, have</p>
<p id="t46" class="t " style="top:2663.70px;font-size:19.4px;color:#262626;font-weight:700;left:104.00px;transform-origin:0 0;transform:scaleX(0.9588);">them stand straight with arms at their sides; the racquet length</p>
<p id="t47" class="t " style="top:2689.80px;font-size:19.4px;color:#262626;font-weight:700;left:103.99px;transform-origin:0 0;transform:scaleX(0.9613);">should be from the floor to the end of their fingertips.</p>
</div>
</body></html>
